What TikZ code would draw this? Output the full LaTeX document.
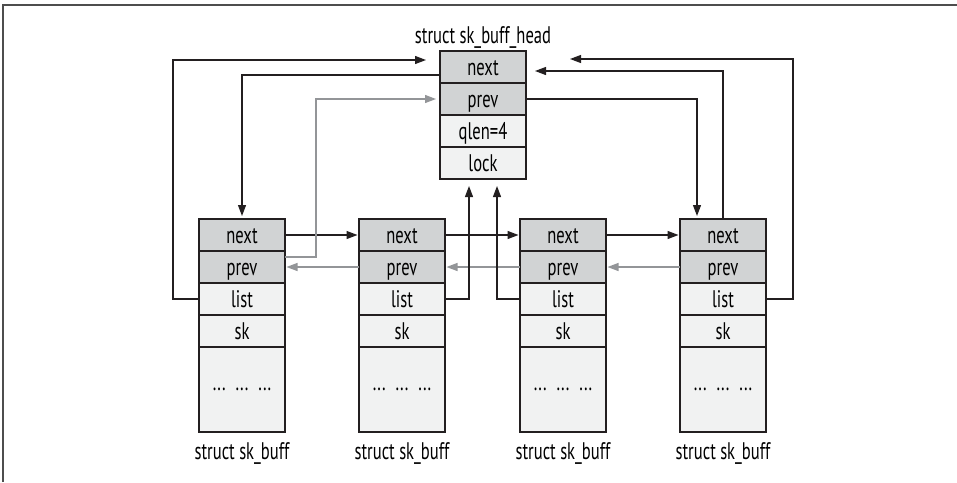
\documentclass[tikz,border=0pt]{standalone}
\usepackage{fontspec}
\setmainfont[FakeStretch=0.69]{PT Sans}
\usetikzlibrary{arrows.meta,calc,positioning}

\definecolor{cellgray}{HTML}{D1D3D4}
\definecolor{celllight}{HTML}{F1F2F2}
\definecolor{ink}{HTML}{231F20}
\definecolor{backgray}{HTML}{939598}
\definecolor{framegray}{HTML}{4D4D4D}

\begin{document}
\begin{tikzpicture}[x=1pt, y=-1pt,
  cellbase/.style={draw=ink, line width=1.3pt, minimum width=86pt, inner sep=0pt, outer sep=0pt, font=\fontsize{24}{26}\selectfont},
  row/.style={cellbase, minimum height=32pt, text height=17.5pt, text depth=1.5pt},
  darkrow/.style={row, fill=cellgray},
  lightrow/.style={row, fill=celllight},
  dotsrow/.style={cellbase, fill=celllight, minimum height=85pt},
  caption/.style={inner sep=0pt, font=\fontsize{24}{26}\selectfont, text height=17.5pt, text depth=1.5pt},
  fwd/.style={draw=ink, line width=1.2pt, -{Triangle[length=11pt,width=8pt]}},
  back/.style={fwd, draw=backgray}]

  % Page and frame
  \useasboundingbox (0,0) rectangle (957,482);
  \draw[framegray, line width=1.5pt] (3,482) -- (3,5) -- (957,5);

  % The list head
  \node[darkrow, anchor=north west] (hnext) at (440,51) {next};
  \node[darkrow, below=0pt of hnext] (hprev) {prev};
  \node[lightrow, below=0pt of hprev] (hqlen) {qlen=4};
  \node[lightrow, below=0pt of hqlen] (hlock) {lock};
  \node[caption, above=5.5pt of hnext] (htitle) {struct sk\_buff\_head};

  % Four buffers in a row
  \foreach \i/\x in {1/199,2/359,3/520,4/680} {
    \node[darkrow, anchor=north west] (b\i-next) at (\x,219) {next};
    \node[darkrow, below=0pt of b\i-next] (b\i-prev) {prev};
    \node[lightrow, below=0pt of b\i-prev] (b\i-list) {list};
    \node[lightrow, below=0pt of b\i-list] (b\i-sk) {sk};
    \node[dotsrow, below=0pt of b\i-sk] (b\i-dots) {...\hspace{10pt}...\hspace{10pt}...};
    \node[caption, below=9.5pt of b\i-dots] (b\i-name) {struct sk\_buff};
  }

  % next / prev between neighbours
  \foreach \i/\j in {1/2,2/3,3/4} {
    \draw[fwd, shorten >=1.5pt] (b\i-next.east) -- (b\j-next.west);
    \draw[back, shorten >=1.5pt] (b\j-prev.west) -- (b\i-prev.east);
  }

  % head.next -> first buffer, first buffer back to head
  \draw[fwd, shorten >=3pt] ($(hnext.south west)+(0,-8)$) -| (b1-next.north);
  \draw[fwd] (b1-list.west) -- ++(-26,0) |- ($(hnext.north west)+(-14,9)$);
  \draw[back] ($(b1-prev.north east)+(0,6)$) -- ++(31,0) |- ($(hprev.west)+(-4,0)$);

  % middle buffers point at the head
  \draw[fwd] (b2-list.east) -| ($(hlock.south west)+(29,7)$);
  \draw[fwd] (b3-list.west) -| ($(hlock.south east)+(-29,7)$);

  % head.prev -> last buffer, last buffer back to head
  \draw[fwd, shorten >=3pt] (hprev.east) -| ($(b4-next.north)+(-26,0)$);
  \draw[fwd] (b4-next.north) |- ($(hnext.east)+(9,4)$);
  \draw[fwd] (b4-list.east) -- ++(27,0) |- ($(hnext.north east)+(44,8)$);

\end{tikzpicture}
\end{document}
